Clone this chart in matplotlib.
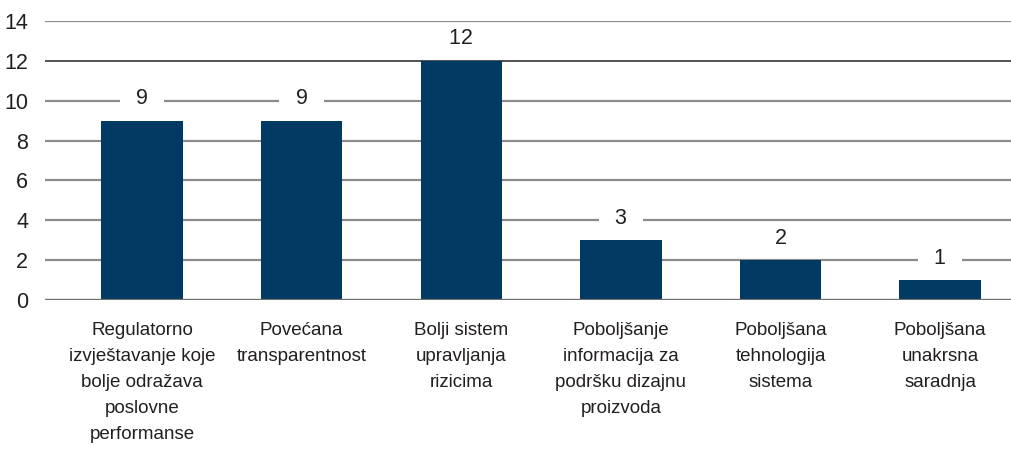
import matplotlib
matplotlib.use('Agg')
import matplotlib.pyplot as plt

plt.rcParams['font.family'] = ['Liberation Sans', 'DejaVu Sans']

categories = [
    'Regulatorno\nizvještavanje koje\nbolje odražava\nposlovne\nperformanse',
    'Povećana\ntransparentnost',
    'Bolji sistem\nupravljanja\nrizicima',
    'Poboljšanje\ninformacija za\npodršku dizajnu\nproizvoda',
    'Poboljšana\ntehnologija\nsistema',
    'Poboljšana\nunakrsna\nsaradnja',
]
values = [9, 9, 12, 3, 2, 1]
yticks = [0, 2, 4, 6, 8, 10, 12, 14]

bar_color = '#003a63'
text_color = '#231f20'

fig = plt.figure(figsize=(10.12, 4.58), dpi=100)
ax = fig.add_axes([0.0445, 0.345, 0.9555, 0.609])

x = list(range(len(categories)))
ax.bar(x, values, width=0.51, color=bar_color, zorder=3)

# value labels sit one step above each bar, masking the gridline behind them
for i, v in enumerate(values):
    ax.text(i, v + 1.1, f'  {v}  ', ha='center', va='center', fontsize=15.5,
            color=text_color, zorder=2,
            bbox=dict(boxstyle='square,pad=0.2', fc='white', ec='none'))

for t in yticks:
    if t == 12:
        ax.axhline(t, color='#222222', linewidth=1.1, zorder=1)
    else:
        ax.axhline(t, color='#8c8c8c', linewidth=1.6, zorder=1)
ax.axhline(0, color='#707070', linewidth=1.6, zorder=4)

ax.set_xlim(-0.608, 5.45)
ax.set_ylim(0, 14)
ax.set_yticks(yticks)
ax.set_xticks(x)
ax.set_xticklabels(categories, fontsize=13.5, color=text_color, linespacing=1.68)
ax.tick_params(axis='y', length=0, pad=12, labelsize=15.5, labelcolor=text_color)
ax.tick_params(axis='x', length=0, pad=16)
for s in ax.spines.values():
    s.set_visible(False)

fig.savefig('out.png', dpi=100)
